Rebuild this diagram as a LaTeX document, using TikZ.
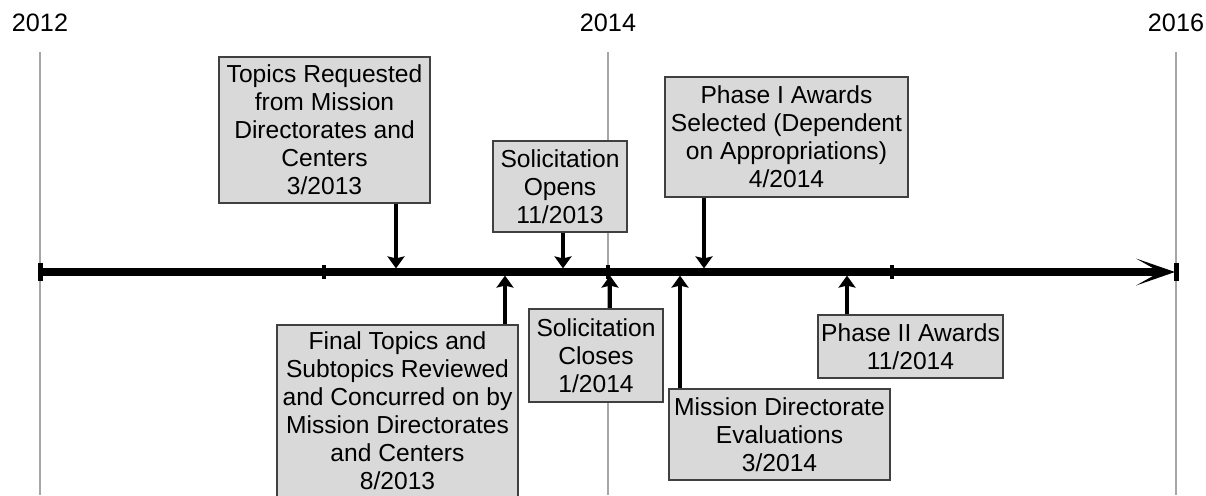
\documentclass[tikz,border=0pt]{standalone}
\usepackage{fontspec}
\setmainfont{Liberation Sans}
\usetikzlibrary{arrows.meta}

\begin{document}
\begin{tikzpicture}[x=0.5pt, y=-0.5pt,
	yearline/.style={line width=0.75pt, color=black!35},
	event/.style={draw=black!75, fill=black!15, line width=0.8pt, align=center, inner sep=0pt, font={\fontsize{12.3}{14}\selectfont}},
	pin/.style={line width=2pt, -{Stealth[width=8.5pt,length=6pt,inset=1pt]}, shorten >=1.8pt}]
	\useasboundingbox (0,0) rectangle (1206,495);
	\clip (0,0) rectangle (1206,495);
	% year lines and labels
	\foreach \x/\yr in {40/2012, 608/2014, 1176/2016} {
		\draw[yearline] (\x,52) -- (\x,495);
		\node[font={\fontsize{12.6}{14}\selectfont}] (y\yr) at (\x,23) {\yr};
	}
	% time axis with open head
	\draw[line width=3.75pt] (40,272) -- (1162,272);
	\fill (1175,272) -- (1136,258.5) -- (1160,272) -- (1136,285.5) -- cycle;
	\draw[line width=2.5pt] (40,263) -- (40,281);
	\draw[line width=2.5pt] (1176,263) -- (1176,281);
	\foreach \x in {324,608,892}
		\draw[line width=2pt] (\x,265) -- (\x,279);
	% points on the axis
	\coordinate (t-req) at (396,272);
	\coordinate (t-final) at (505,272);
	\coordinate (t-opens) at (563,272);
	\coordinate (t-closes) at (610,272);
	\coordinate (t-mde) at (680,272);
	\coordinate (t-phaseone) at (704,272);
	\coordinate (t-phasetwo) at (847,272);
	% above the axis
	\node[event, minimum width=105.5pt, minimum height=73pt] (req) at (324.5,130)
		{Topics Requested\\from Mission\\Directorates and\\Centers\\3/2013};
	\node[event, minimum width=67pt, minimum height=45.5pt] (opens) at (560,186.5)
		{Solicitation\\Opens\\11/2013};
	\node[event, minimum width=121.5pt, minimum height=60pt] (phaseone) at (786.5,137)
		{Phase I Awards\\Selected (Dependent\\on Appropriations)\\4/2014};
	% below the axis
	\node[event, minimum width=120.5pt, minimum height=86pt] (final) at (397.5,411)
		{Final Topics and\\Subtopics Reviewed\\and Concurred on by\\Mission Directorates\\and Centers\\8/2013};
	\node[event, minimum width=67pt, minimum height=46.5pt] (closes) at (596,355.5)
		{Solicitation\\Closes\\1/2014};
	\node[event, minimum width=110.5pt, minimum height=45.5pt] (mde) at (779.5,434.5)
		{Mission Directorate\\Evaluations\\3/2014};
	\node[event, minimum width=92.5pt, minimum height=31.5pt] (phasetwo) at (910.5,346.5)
		{Phase II Awards\\11/2014};
	% pins
	\foreach \n in {req, opens, phaseone}
		\draw[pin] (\n.south -| t-\n) -- (t-\n);
	\foreach \n in {final, closes, mde, phasetwo}
		\draw[pin] (\n.north -| t-\n) -- (t-\n);
\end{tikzpicture}
\end{document}
